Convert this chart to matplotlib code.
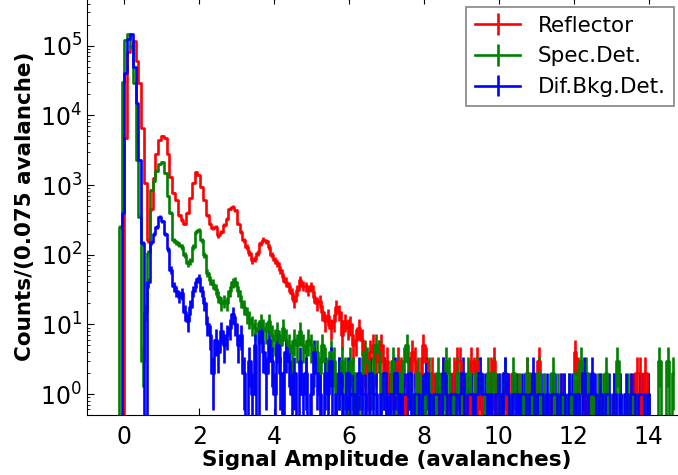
import matplotlib
matplotlib.use("Agg")
import matplotlib.pyplot as plt
import numpy as np

# histogram binning (counts per 0.075 avalanche)
bin_start = -0.3
bin_width = 0.075

reflector = [
    0, 0, 0, 0, 4700, 81000, 100000, 117000, 60000, 29000,
    6600, 1070, 160, 450, 1260, 2800, 4400, 5100, 4700, 2800,
    1300, 760, 610, 370, 315, 280, 400, 650, 1060, 1530,
    1380, 930, 610, 370, 280, 240, 250, 190, 210, 265,
    330, 460, 490, 435, 280, 210, 160, 130, 105, 83,
    87, 105, 145, 165, 155, 130, 99, 83, 75, 60,
    48, 41, 35, 28, 22, 31, 43, 36, 35, 31,
    35, 25, 20, 22, 15, 11, 13, 9, 11, 18,
    15, 7, 11, 9, 10, 5, 6, 9, 6, 3,
    2, 4, 5, 3, 4, 5, 2, 3, 1, 2,
    1, 3, 2, 0, 1, 2, 4, 3, 1, 2,
    5, 3, 1, 2, 0, 1, 0, 2, 1, 0,
    1, 2, 3, 3, 0, 1, 0, 3, 2, 3,
    0, 1, 0, 1, 2, 3, 0, 0, 1, 0,
    1, 1, 0, 0, 1, 0, 0, 2, 0, 0,
    1, 3, 0, 1, 0, 0, 1, 0, 0, 1,
    0, 0, 0, 0, 4, 2, 0, 0, 1, 1,
    0, 0, 0, 1, 0, 0, 0, 0, 1, 0,
    0, 0, 0, 0, 1, 0, 2, 2, 0, 2,
    1, 0, 0, 0, 0, 0, 0, 0, 0, 0,
]

spec_det = [
    0, 0, 250, 30000, 120000, 146000, 96000, 29000, 2300, 350,
    3, 15, 105, 850, 1150, 1600, 2000, 2150, 1500, 700,
    400, 160, 150, 140, 130, 100, 75, 80, 130, 210,
    225, 160, 100, 55, 43, 38, 32, 25, 20, 22,
    20, 30, 40, 41, 30, 22, 18, 14, 12, 10,
    9, 8, 11, 9, 8, 11, 7, 6, 8, 5,
    9, 6, 5, 4, 6, 5, 8, 5, 4, 6,
    5, 3, 4, 2, 5, 3, 2, 4, 3, 1,
    2, 3, 2, 1, 3, 2, 0, 1, 2, 4,
    3, 1, 2, 5, 4, 1, 2, 0, 1, 3,
    1, 2, 1, 3, 5, 2, 1, 0, 2, 1,
    0, 1, 2, 1, 0, 2, 1, 0, 3, 2,
    1, 0, 2, 1, 0, 1, 2, 1, 0, 2,
    2, 1, 0, 2, 1, 2, 1, 1, 0, 2,
    1, 0, 2, 1, 1, 0, 1, 2, 0, 1,
    1, 2, 0, 1, 0, 1, 2, 0, 1, 0,
    1, 0, 1, 0, 2, 0, 3, 1, 2, 0,
    1, 0, 1, 0, 1, 2, 0, 0, 1, 3,
    1, 0, 0, 1, 0, 1, 0, 1, 1, 0,
    1, 0, 0, 0, 3, 0, 0, 3, 0, 2,
]

dif_bkg_det = [
    0, 0, 0, 400, 40000, 125000, 145000, 50000, 15000, 2300,
    146, 0, 40, 150, 200, 250, 350, 300, 200, 120,
    60, 35, 30, 25, 28, 15, 11, 18, 30, 40,
    46, 30, 20, 10, 7, 2, 6, 4, 8, 5,
    7, 9, 14, 10, 5, 7, 2, 0, 3, 1,
    5, 0, 8, 4, 2, 6, 3, 1, 5, 2,
    0, 4, 3, 1, 2, 0, 3, 1, 2, 0,
    1, 4, 2, 1, 0, 2, 1, 3, 0, 1,
    2, 1, 0, 2, 1, 1, 0, 2, 1, 1,
    0, 2, 1, 1, 0, 1, 2, 0, 1, 1,
    2, 1, 0, 1, 1, 2, 0, 1, 1, 0,
    1, 2, 1, 0, 1, 1, 0, 2, 1, 0,
    1, 1, 0, 1, 2, 0, 1, 1, 0, 1,
    2, 1, 1, 0, 1, 0, 1, 1, 0, 2,
    1, 0, 1, 1, 0, 1, 1, 0, 1, 2,
    0, 1, 1, 0, 1, 0, 1, 1, 0, 1,
    1, 0, 1, 1, 0, 1, 0, 2, 0, 1,
    2, 1, 0, 1, 0, 1, 1, 0, 1, 0,
    1, 0, 1, 0, 1, 1, 0, 1, 1, 0,
    1, 0, 0, 0, 0, 0, 0, 0, 0, 0,
]

series = [
    ("Reflector", reflector, "red"),
    ("Spec.Det.", spec_det, "green"),
    ("Dif.Bkg.Det.", dif_bkg_det, "blue"),
]

fig = plt.figure(figsize=(6.78, 4.75), dpi=100)
# axes runs a little past the top and right edges of the canvas, as in the original
ax = fig.add_axes([87 / 678, 60 / 475, 599 / 678, 418 / 475])

for label, vals, col in series:
    vals = np.array(vals, dtype=float)
    x = bin_start + bin_width * (np.arange(len(vals)) + 0.5)
    ax.errorbar(x, vals, yerr=np.sqrt(vals), drawstyle="steps-mid", color=col,
                lw=1.9, elinewidth=1.9, capsize=0, label=label)

ax.set_yscale("log")
ax.set_xlim(-1, 15)
ax.set_ylim(0.5, 5e5)
ax.set_xticks(np.arange(0, 15, 2))

ax.tick_params(which="both", direction="in", top=True, right=True, labelsize=17)
ax.tick_params(axis="x", pad=7)
ax.tick_params(which="major", length=5)
ax.tick_params(which="minor", length=2.5)

ax.set_xlabel("Signal Amplitude (avalanches)", fontsize=15.5, fontweight="bold", labelpad=1)
ax.set_ylabel("Counts/(0.075 avalanche)", fontsize=15.5, fontweight="bold", labelpad=4)

leg = ax.legend(loc="upper right", bbox_to_anchor=(674 / 678, 468 / 475),
                bbox_transform=fig.transFigure, fontsize=15.5, fancybox=False,
                edgecolor="0.4", borderaxespad=0, numpoints=1, handlelength=2.1)
leg.get_frame().set_linewidth(1.2)
for ln in leg.get_lines():
    ln.set_linewidth(1.0)

fig.savefig("out.png", dpi=100)
